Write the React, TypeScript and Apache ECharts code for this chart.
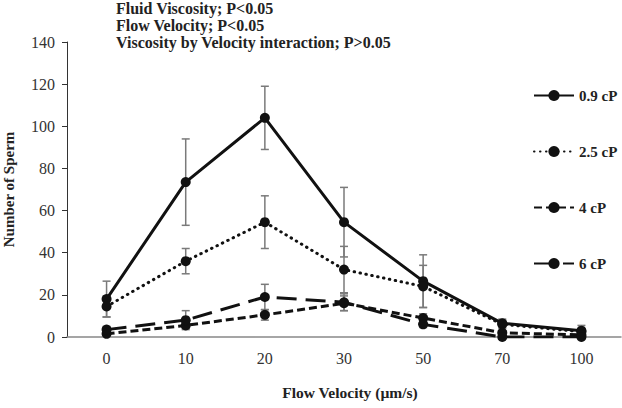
import React, { useEffect, useRef } from "react";
import * as echarts from "echarts";

const categories = ["0", "10", "20", "30", "50", "70", "100"];
const seriesNames = ["0.9 cP", "2.5 cP", "4 cP", "6 cP"];
const v09 = [18, 73.5, 104, 54.5, 26.5, 6.5, 3];
const e09 = [8.5, 20.5, 15, 16.5, 12.5, 2, 2.5];
const v25 = [14.5, 36, 54.5, 32, 24, 6, 2.5];
const e25 = [5, 6, 12.5, 11, 10, 2, 1.5];
const v4 = [1.5, 5.5, 10.5, 16, 9, 2, 1];
const e4 = [1, 1.5, 2.5, 3.5, 2, 1, 0.5];
const v6 = [3.5, 8, 19, 16.5, 6, 0, 0];
const e6 = [1.5, 4.5, 6, 4, 1.5, 0.5, 0.3];
const titleLines = [
  "Fluid Viscosity; P<0.05",
  "Flow Velocity; P<0.05",
  "Viscosity by Velocity interaction; P>0.05",
];
const yTicks = { min: 0, max: 140, interval: 20 };

const FONT = "Liberation Serif";

export default function App() {
  const ref = useRef<HTMLDivElement>(null);
  useEffect(() => {
    if (!ref.current) return;
    const chart = echarts.init(ref.current, undefined, { renderer: "svg" });
    const values = [v09, v25, v4, v6];
    const errs = [e09, e25, e4, e6];
    const lineTypes: any[] = ["solid", [0.5, 5.5], [8, 4], [20, 9]];
    const errData: any[] = [];
    values.forEach((vals, s) => {
      vals.forEach((v, i) => {
        errData.push([i, v - errs[s][i], v + errs[s][i]]);
      });
    });
    const lineSeries = seriesNames.map((name, s) => ({
      name,
      type: "line",
      data: values[s],
      symbol: "circle",
      symbolSize: 10,
      z: 3,
      lineStyle: {
        color: "#111",
        width: 3,
        type: lineTypes[s],
        cap: s === 1 ? "round" : "butt",
      },
      itemStyle: { color: "#111" },
    }));
    chart.setOption({
      animation: false,
      title: {
        text: titleLines.join("\n"),
        left: 116,
        top: 0,
        padding: 0,
        textStyle: {
          fontFamily: FONT,
          fontSize: 16,
          fontWeight: "bold",
          lineHeight: 17,
          color: "#222",
        },
      },
      legend: {
        orient: "vertical",
        left: 528,
        top: 83,
        itemGap: 41,
        itemWidth: 40,
        itemHeight: 14,
        data: seriesNames,
        textStyle: {
          fontFamily: FONT,
          fontSize: 15,
          fontWeight: "bold",
          color: "#222",
        },
      },
      grid: { left: 67, right: 1, top: 42, bottom: 71, outerBoundsMode: "none" },
      xAxis: {
        type: "category",
        data: categories,
        boundaryGap: true,
        name: "Flow Velocity (µm/s)",
        nameLocation: "middle",
        nameGap: 47,
        nameTextStyle: {
          fontFamily: FONT,
          fontSize: 15.5,
          fontWeight: "bold",
          color: "#222",
          padding: [0, 0, 0, 12],
        },
        axisLine: { lineStyle: { color: "#888", width: 1.5 } },
        axisTick: { show: false },
        axisLabel: {
          fontFamily: FONT,
          fontSize: 16,
          color: "#333",
          margin: 13,
        },
      },
      yAxis: {
        type: "value",
        min: yTicks.min,
        max: yTicks.max,
        interval: yTicks.interval,
        name: "Number of Sperm",
        nameLocation: "middle",
        nameGap: 51,
        nameRotate: 90,
        nameTextStyle: {
          fontFamily: FONT,
          fontSize: 15,
          fontWeight: "bold",
          color: "#222",
        },
        axisLine: { show: true, lineStyle: { color: "#333", width: 1 } },
        axisTick: { show: true, length: 5, lineStyle: { color: "#333" } },
        splitLine: { show: false },
        axisLabel: {
          fontFamily: FONT,
          fontSize: 16,
          color: "#333",
          margin: 12,
        },
      },
      series: [
        {
          type: "custom",
          name: "err",
          z: 2,
          data: errData,
          renderItem: (params: any, api: any) => {
            const x = api.value(0);
            const lo = api.coord([x, api.value(1)]);
            const hi = api.coord([x, api.value(2)]);
            const w = 4;
            const st = { stroke: "#7a7a7a", lineWidth: 1.5 };
            return {
              type: "group",
              children: [
                { type: "line", shape: { x1: lo[0], y1: lo[1], x2: hi[0], y2: hi[1] }, style: st },
                { type: "line", shape: { x1: lo[0] - w, y1: lo[1], x2: lo[0] + w, y2: lo[1] }, style: st },
                { type: "line", shape: { x1: hi[0] - w, y1: hi[1], x2: hi[0] + w, y2: hi[1] }, style: st },
              ],
            };
          },
          silent: true,
        },
        ...lineSeries,
      ],
    });
    return () => chart.dispose();
  }, []);
  return (
    <div
      ref={ref}
      style={{ position: "fixed", left: 0, top: 0, width: 622, height: 408, background: "#fff" }}
    />
  );
}
